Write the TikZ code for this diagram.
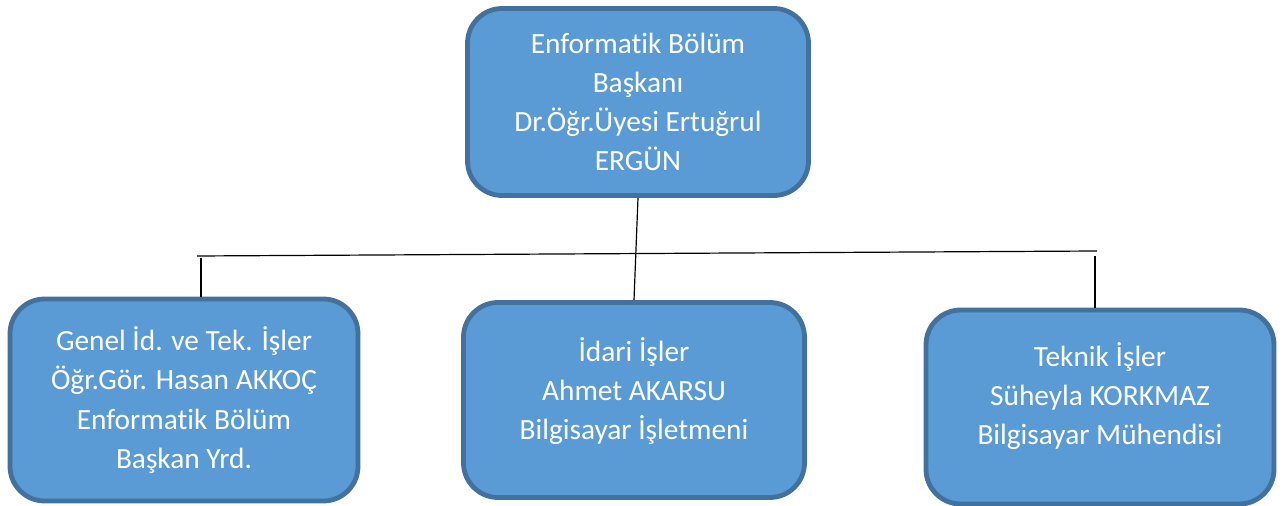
\documentclass[tikz,border=0pt]{standalone}
\usepackage{fontspec}
\setmainfont[Ligatures=NoCommon]{Carlito}
\usepackage{xcolor}
\usetikzlibrary{positioning, calc}
\definecolor{boxfill}{HTML}{5B9BD5}
\definecolor{boxline}{HTML}{41719C}

\begin{document}
\begin{tikzpicture}[
  x=0.75pt, y=-0.75pt,
  unit/.style={rectangle, draw=boxline, fill=boxfill, line width=3.6pt, rounded corners=26pt,
    align=center, text=white, font=\fontsize{22}{29.3}\selectfont, inner sep=0pt},
  link/.style={draw=black, line width=0.9pt}
]
  \useasboundingbox (0,0) rectangle (1286,506);

  \node[unit, minimum width=341*0.75pt, minimum height=187*0.75pt] (head) at (638,102)
    {Enformatik Bölüm\\Başkanı\\Dr.Öğr.Üyesi Ertuğrul\\ERGÜN};
  \node[unit, minimum width=348*0.75pt, minimum height=202*0.75pt] (general) at (184,400)
    {Genel İd. ve Tek. İşler\\Öğr.Gör. Hasan AKKOÇ\\Enformatik Bölüm\\Başkan Yrd.};
  \node[unit, text depth=17pt, minimum width=341*0.75pt, minimum height=195*0.75pt] (admin) at (634,400)
    {İdari İşler\\Ahmet AKARSU\\Bilgisayar İşletmeni};
  \node[unit, text depth=20pt, minimum width=348*0.75pt, minimum height=194*0.75pt] (tech) at (1100,407)
    {Teknik İşler\\Süheyla KORKMAZ\\Bilgisayar Mühendisi};

  % horizontal bus
  \coordinate (busL) at (197,256);
  \coordinate (busR) at (1097,251);
  \coordinate (dropL) at (201,258);
  \coordinate (dropR) at (1095,256);

  \draw[link] (busL) -- (busR);
  \draw[link] (head.south) -- (admin.north);
  \draw[link] (dropL) -- (dropL |- general.north);
  \draw[link] (dropR) -- (dropR |- tech.north);
\end{tikzpicture}
\end{document}
